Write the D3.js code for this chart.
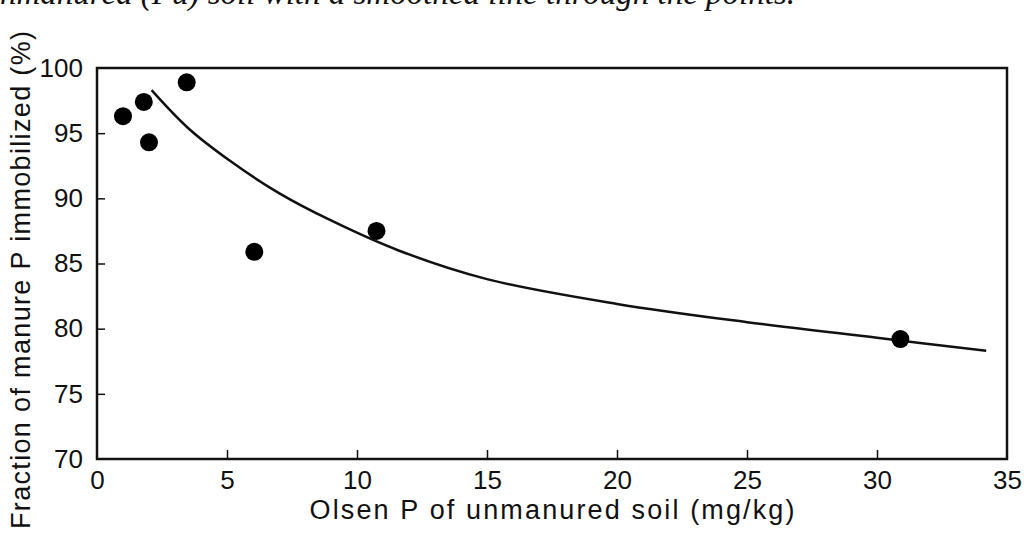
<!DOCTYPE html>
<html>
<head>
<meta charset="utf-8">
<script src="https://cdn.jsdelivr.net/npm/d3@7"></script>
<style>
	body { margin: 0; background: #fff; }
	svg { display: block; }
	text { font-family: "Liberation Sans", Arial, sans-serif; fill: #111; }
	.caption { font-family: "Liberation Serif", serif; font-style: italic; }
</style>
</head>
<body>
<div id="chart"></div>
<script>
// measured points
const pointX = [1.0, 1.8, 2.0, 3.45, 6.05, 10.75, 30.9];
const pointY = [96.3, 97.4, 94.3, 98.9, 85.9, 87.5, 79.2];

// smoothed line
const curveX = [2.1, 3.5, 5.1, 7.0, 9.0, 11.6, 15, 20, 25, 30, 34.2];
const curveY = [98.3, 95.4, 92.9, 90.4, 88.3, 86.0, 83.8, 81.9, 80.5, 79.3, 78.3];

const xTicks = [0, 5, 10, 15, 20, 25, 30, 35];
const yTicks = [70, 75, 80, 85, 90, 95, 100];

const width = 1026, height = 538;
const margin = { top: 68, right: 19, bottom: 79, left: 97 };
const innerW = width - margin.left - margin.right;
const innerH = height - margin.top - margin.bottom;

const svg = d3.select('#chart').append('svg').attr('width', width).attr('height', height);

// cropped caption line from the page above the figure
svg.append('text')
	.attr('class', 'caption')
	.attr('x', 795)
	.attr('y', 4)
	.attr('text-anchor', 'end')
	.attr('font-size', 33)
	.text('unmanured (Pu) soil with a smoothed line through the points.');

const g = svg.append('g').attr('transform', `translate(${margin.left}, ${margin.top})`);

const xScale = d3.scaleLinear().domain([0, 35]).range([0, innerW]);
const yScale = d3.scaleLinear().domain([70, 100]).range([innerH, 0]);

// axes with inward ticks
const xAxis = d3.axisBottom(xScale).tickValues(xTicks).tickSize(-9).tickPadding(14).tickFormat(d3.format('d'));
const yAxis = d3.axisLeft(yScale).tickValues(yTicks).tickSize(-8).tickPadding(14).tickFormat(d3.format('d'));

const xAxisG = g.append('g').attr('transform', `translate(0, ${innerH})`).call(xAxis);
const yAxisG = g.append('g').call(yAxis);

[xAxisG, yAxisG].forEach(a => {
	a.select('.domain').remove();
	a.selectAll('.tick line').attr('stroke', '#111').attr('stroke-width', 1.5);
	a.selectAll('.tick text').attr('font-size', 26).attr('fill', '#111');
});
xAxisG.selectAll('.tick').filter(d => d === 0 || d === 35).select('line').remove();
yAxisG.selectAll('.tick').filter(d => d === 70 || d === 100).select('line').remove();
xAxisG.selectAll('.tick text').attr('dy', '0.62em');

// frame
g.append('rect')
	.attr('x', 0).attr('y', 0)
	.attr('width', innerW).attr('height', innerH)
	.attr('fill', 'none')
	.attr('stroke', '#111')
	.attr('stroke-width', 2.5);

// smoothed line
const line = d3.line()
	.curve(d3.curveCatmullRom)
	.x((d, i) => xScale(curveX[i]))
	.y((d, i) => yScale(curveY[i]));

g.append('path')
	.datum(curveX)
	.attr('fill', 'none')
	.attr('stroke', '#111')
	.attr('stroke-width', 2.5)
	.attr('d', line);

// points
g.selectAll('.dot')
	.data(pointX)
	.join('circle')
	.attr('class', 'dot')
	.attr('cx', d => xScale(d))
	.attr('cy', (d, i) => yScale(pointY[i]))
	.attr('r', 9)
	.attr('fill', '#000');

// axis labels
svg.append('text')
	.attr('text-anchor', 'middle')
	.attr('x', margin.left + innerW / 2)
	.attr('y', 519)
	.attr('font-size', 27)
	.attr('textLength', 485)
	.attr('lengthAdjust', 'spacing')
	.text('Olsen P of unmanured soil (mg/kg)');

svg.append('text')
	.attr('text-anchor', 'middle')
	.attr('transform', 'rotate(-90)')
	.attr('x', -280)
	.attr('y', 30)
	.attr('font-size', 27)
	.attr('textLength', 498)
	.attr('lengthAdjust', 'spacing')
	.text('Fraction of manure P immobilized (%)');
</script>
</body>
</html>
